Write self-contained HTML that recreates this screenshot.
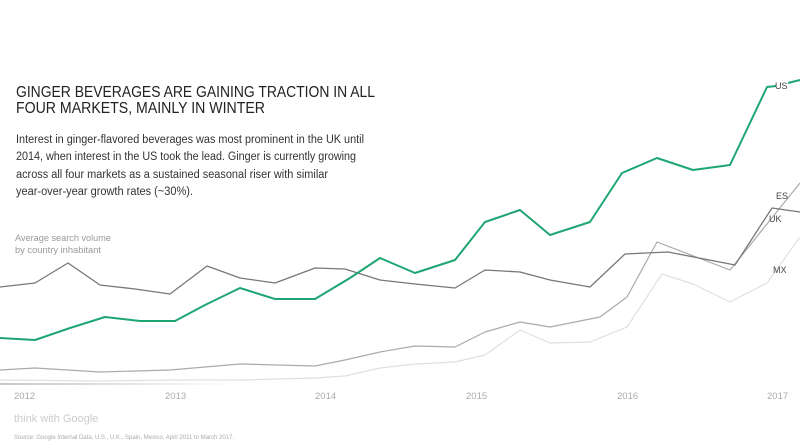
<!DOCTYPE html>
<html><head><meta charset="utf-8"><style>
html,body{margin:0;padding:0;background:#fff;}
svg{display:block;font-family:"Liberation Sans",sans-serif;}
</style></head><body>
<svg width="800" height="446" viewBox="0 0 800 446" xmlns="http://www.w3.org/2000/svg">
<defs><linearGradient id="ax" x1="0" x2="1"><stop offset="0" stop-color="#c8c8c8"/><stop offset="1" stop-color="#fff"/></linearGradient></defs>
<rect width="800" height="446" fill="#fff"/>
<rect x="0" y="383" width="240" height="2" fill="url(#ax)"/>
<text x="16" y="97" font-size="16" fill="#222" textLength="359" lengthAdjust="spacingAndGlyphs">GINGER BEVERAGES ARE GAINING TRACTION IN ALL</text>
<text x="16" y="113" font-size="16" fill="#222" textLength="249" lengthAdjust="spacingAndGlyphs">FOUR MARKETS, MAINLY IN WINTER</text>
<g font-size="11.5" fill="#333">
<text x="16" y="143" textLength="348" lengthAdjust="spacingAndGlyphs">Interest in ginger-flavored beverages was most prominent in the UK until</text>
<text x="16" y="160" textLength="340" lengthAdjust="spacingAndGlyphs">2014, when interest in the US took the lead. Ginger is currently growing</text>
<text x="16" y="178" textLength="312" lengthAdjust="spacingAndGlyphs">across all four markets as a sustained seasonal riser with similar</text>
<text x="16" y="195" textLength="177" lengthAdjust="spacingAndGlyphs">year-over-year growth rates (~30%).</text>
</g>
<text x="15" y="241" font-size="9.5" fill="#999" textLength="96" lengthAdjust="spacingAndGlyphs">Average search volume</text>
<text x="15" y="253" font-size="9.5" fill="#999" textLength="86" lengthAdjust="spacingAndGlyphs">by country inhabitant</text>
<g fill="none" stroke-linejoin="round">
<polyline stroke="#e0e0e0" stroke-width="1.2" points="0,380 100,381 170,380 240,380 315,378 345,376 380,368 415,364 455,362 485,355 520,330 550,343 590,342 627,327 662,274 693,284 730,302 767,283 800,237"/>
<polyline stroke="#aaa" stroke-width="1.2" points="0,370 35,368 100,372 170,370 240,364 315,366 345,360 380,352 415,346 455,347 485,332 520,322 550,327 600,317 627,297 657,242 730,270 800,183"/>
<polyline stroke="#777" stroke-width="1.3" points="0,287 35,283 68,263 100,285 135,289 170,294 207,266 240,278 275,283 315,268 345,269 380,280 415,284 455,288 485,270 520,272 550,280 590,287 625,254 668,252 735,265 772,208 800,212"/>
<polyline stroke="#1ea672" stroke-width="2" points="0,338 35,340 70,328 105,317 140,321 175,321 205,305 240,288 275,299 315,299 350,278 380,258 415,273 455,260 485,222 520,210 550,235 590,222 622,173 657,158 693,170 730,165 767,87 776,86"/>
<polyline stroke="#1ea672" stroke-width="2" points="788,83 800,80"/>
</g>
<g font-size="9" fill="#444">
<text x="775" y="89">US</text>
<text x="776" y="199">ES</text>
<text x="769" y="222">UK</text>
<text x="773" y="273">MX</text>
</g>
<g font-size="9.5" fill="#aaa">
<text x="14" y="399">2012</text>
<text x="165" y="399">2013</text>
<text x="315" y="399">2014</text>
<text x="466" y="399">2015</text>
<text x="617" y="399">2016</text>
<text x="767" y="399">2017</text>
</g>
<text x="14" y="422" font-size="11" fill="#ccc">think with Google</text>
<text x="14" y="439" font-size="6" fill="#aaa">Source: Google Internal Data, U.S., U.K., Spain, Mexico, April 2011 to March 2017.</text>
</svg>
</body></html>
